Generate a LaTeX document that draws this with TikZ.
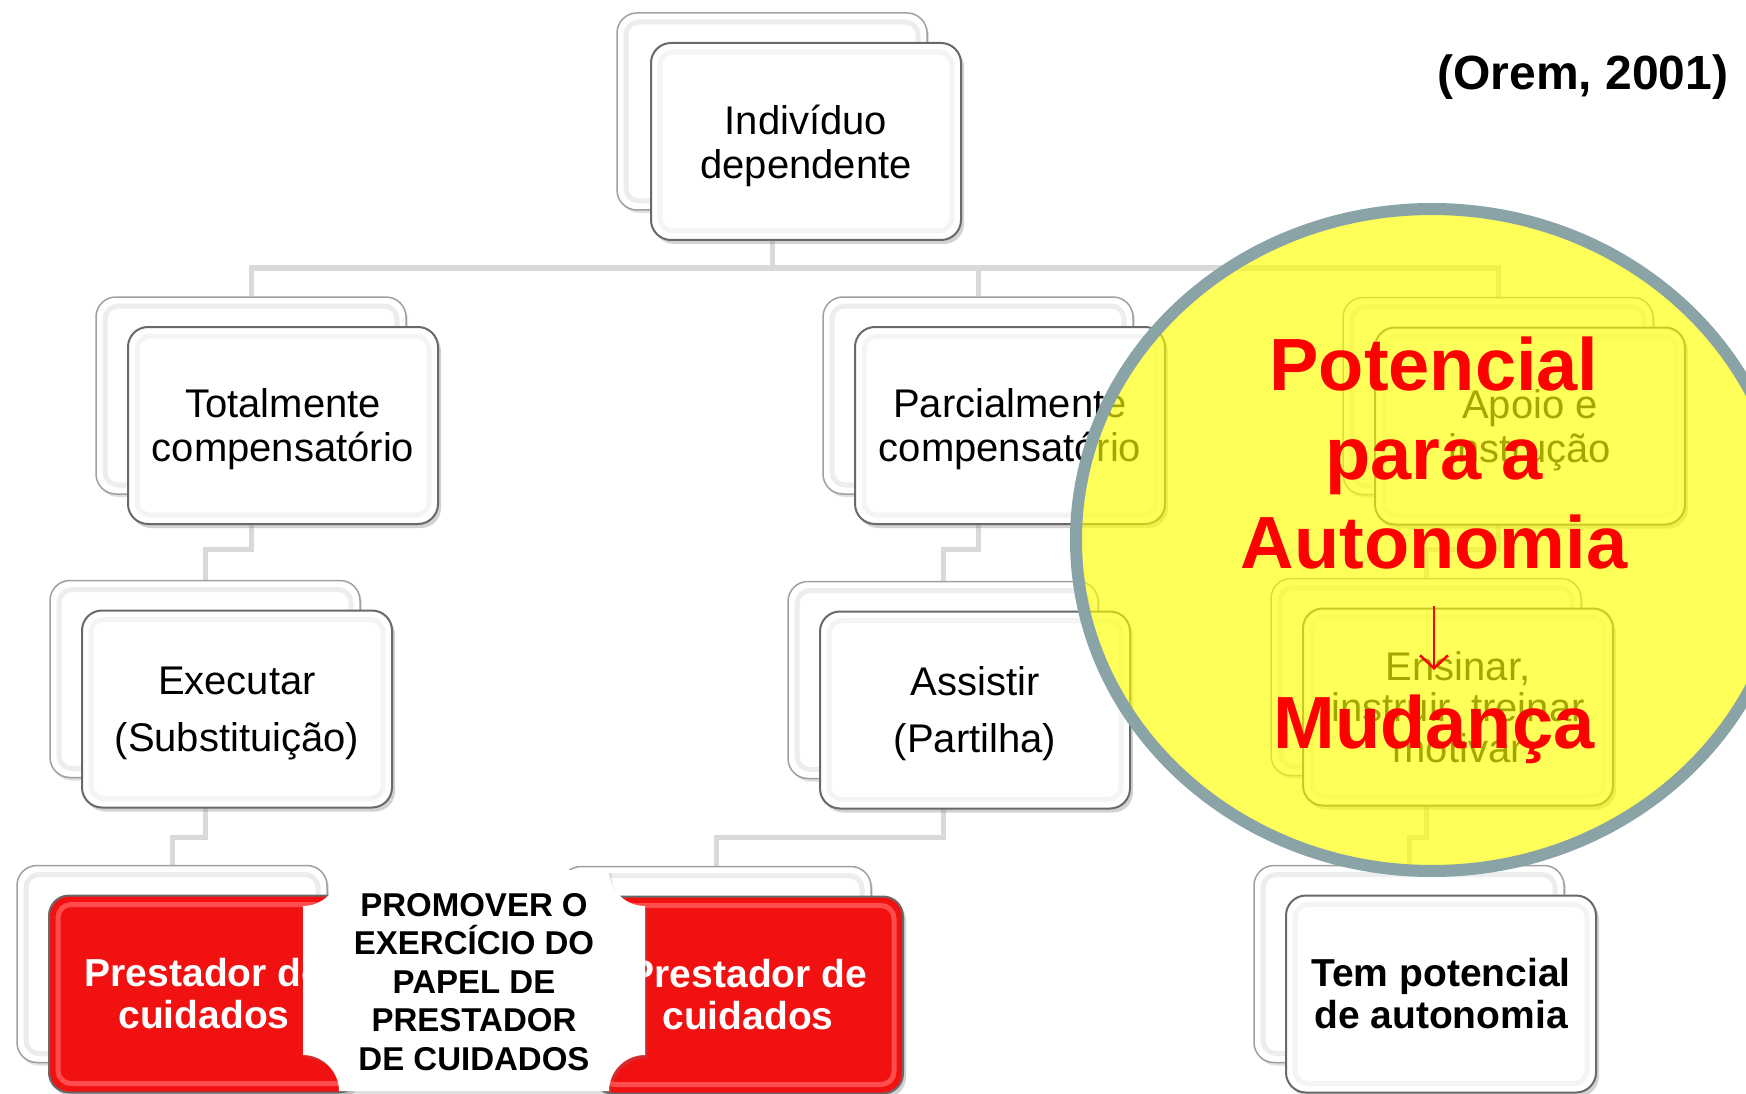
\documentclass[tikz,border=0pt]{standalone}
\usepackage{fontspec}
\setmainfont{Liberation Sans}
\usetikzlibrary{shadows,arrows.meta,calc}
\definecolor{conncol}{RGB}{217,217,217}
\definecolor{boxedge}{RGB}{105,105,105}
\definecolor{backedge}{RGB}{160,160,160}
\definecolor{boxred}{RGB}{241,17,17}
\definecolor{ringcol}{RGB}{137,163,166}
\definecolor{hilite}{RGB}{255,255,0}
\definecolor{txtred}{RGB}{255,0,0}
\pgfdeclarelayer{bottom}
\pgfdeclarelayer{connlayer}
\pgfsetlayers{bottom,connlayer,main}
\begin{document}
\begin{tikzpicture}[x=1pt,y=-1pt,
  conn/.style={draw=conncol,line width=5pt},
  boxbase/.style={rectangle,rounded corners=20pt,minimum width=310pt,minimum height=197pt,
    inner sep=0pt,align=center},
  rim/.style={path picture={\draw[#1,line width=5pt,rounded corners=13pt]
     ([shift={(9pt,-9pt)}]path picture bounding box.north west) rectangle
     ([shift={(-9pt,9pt)}]path picture bounding box.south east);}},
  backbox/.style={boxbase,fill=white,draw=backedge,line width=1.5pt,rim=gray!14,
    drop shadow={shadow xshift=2pt,shadow yshift=-3pt,opacity=0.25}},
  frontbox/.style={boxbase,fill=white,draw=boxedge,line width=2pt,rim=gray!9,
    drop shadow={shadow xshift=3pt,shadow yshift=-4pt,opacity=0.35},
    font=\fontsize{40}{44}\selectfont},
  lowtext/.style={text depth=0pt},
  redbox/.style={boxbase,fill=boxred,draw=boxedge,line width=2pt,rim=red!70!white,
    drop shadow={shadow xshift=3pt,shadow yshift=-4pt,opacity=0.35},
    text=white,font=\bfseries\fontsize{39}{42}\selectfont},
  boldbox/.style={frontbox,font=\bfseries\fontsize{39}{42}\selectfont},
  bigred/.style={text=txtred,font=\bfseries\fontsize{74}{89}\selectfont,anchor=base,inner sep=0pt}
]
\useasboundingbox (0,0) rectangle (1746,1094);
\begin{pgfonlayer}{bottom}
\fill[white] (0,0) rectangle (1746,1094);
\end{pgfonlayer}
\clip (0,0) rectangle (1746,1094);

% level 0
\node[backbox] (btop) at (772,111.5) {};
\node[frontbox,lowtext] (top) at (806,141.5) {Indivíduo\\dependente};
% level 1
\node[backbox] (btot) at (251,395.5) {};
\node[frontbox,lowtext] (tot) at (283,425.5) {Totalmente\\compensatório};
\node[backbox] (bpar) at (978,395.5) {};
\node[frontbox,lowtext] (par) at (1010,425.5) {Parcialmente\\compensatório};
\node[backbox] (bapo) at (1498,396) {};
\node[frontbox,lowtext] (apo) at (1530,426) {Apoio e\\instrução};
% level 2
\node[backbox] (bexe) at (205,679) {};
\node[frontbox,lowtext] (exe) at (237,709) {Executar\\[13pt](Substituição)};
\node[backbox] (bass) at (943,680) {};
\node[frontbox,lowtext] (ass) at (975,710) {Assistir\\[13pt](Partilha)};
\node[backbox] (bens) at (1426,677) {};
\node[frontbox] (ens) at (1458,707) {Ensinar,\\[-3pt]instruir, treinar\\[-3pt]motivar};
% level 3
\node[backbox] (bpl) at (172,964) {};
\node[redbox] (pl) at (204,994) {Prestador de\\cuidados};
\node[backbox] (bpr) at (716,965) {};
\node[redbox] (pr) at (748,995) {Prestador de\\cuidados};
\node[backbox] (btem) at (1409,964) {};
\node[boldbox] (tem) at (1441,994) {Tem potencial\\de autonomia};

% connectors
\begin{pgfonlayer}{connlayer}
\coordinate (m1) at (0,268);
\coordinate (m2) at (0,549);
\coordinate (m3) at (0,837);
\draw[conn] (btop.south) -- (btop.south |- m1) -| (btot.north);
\draw[conn] (btop.south) -- (btop.south |- m1) -| (bpar.north);
\draw[conn] (btop.south) -- (btop.south |- m1) -| (bapo.north);
\draw[conn] (btot.south) -- (btot.south |- m2) -| (bexe.north);
\draw[conn] (bpar.south) -- (bpar.south |- m2) -| (bass.north);
\draw[conn] (bapo.south) -- (bapo.south |- m2) -| (bens.north);
\draw[conn] (bexe.south) -- (bexe.south |- m3) -| (bpl.north);
\draw[conn] (bass.south) -- (bass.south |- m3) -| (bpr.north);
\draw[conn] (bens.south) -- (bens.south |- m3) -| (btem.north);
\end{pgfonlayer}

% promover plaque
\fill[white,drop shadow={shadow xshift=2pt,shadow yshift=-3pt,opacity=0.25}]
  (339,870) -- (609,870) .. controls (609,889.9) and (625.1,906) .. (645,906)
  -- (645,1055) .. controls (625.1,1055) and (609,1071.1) .. (609,1091)
  -- (339,1091) .. controls (339,1071.1) and (322.9,1055) .. (303,1055)
  -- (303,906) .. controls (322.9,906) and (339,889.9) .. (339,870) -- cycle;
\node[align=center,inner sep=0pt,font=\bfseries\fontsize{33}{38.5}\selectfont] (promo) at (474,982)
  {PROMOVER O\\EXERCÍCIO DO\\PAPEL DE\\PRESTADOR\\DE CUIDADOS};

% citation
\node[anchor=base,inner sep=0pt,font=\bfseries\fontsize{48}{56}\selectfont] (orem) at (1583,90) {(Orem, 2001)};

% highlight ellipse
\draw[draw=ringcol,line width=12pt,fill=hilite,fill opacity=0.65] (1432,540) ellipse [x radius=356, y radius=331];

\node[bigred] (pot1) at (1434,390) {Potencial};
\node[bigred] (pot2) at (1434,479) {para a};
\node[bigred] (pot3) at (1434,568) {Autonomia};
\node[bigred] (mud) at (1434,748) {Mudança};
\coordinate (arrs) at (1434,606);
\coordinate (arre) at (1434,670);
\draw[txtred,line width=2.5pt,-{Straight Barb[length=13pt,width=28pt]}] (arrs) -- (arre);
\end{tikzpicture}
\end{document}
